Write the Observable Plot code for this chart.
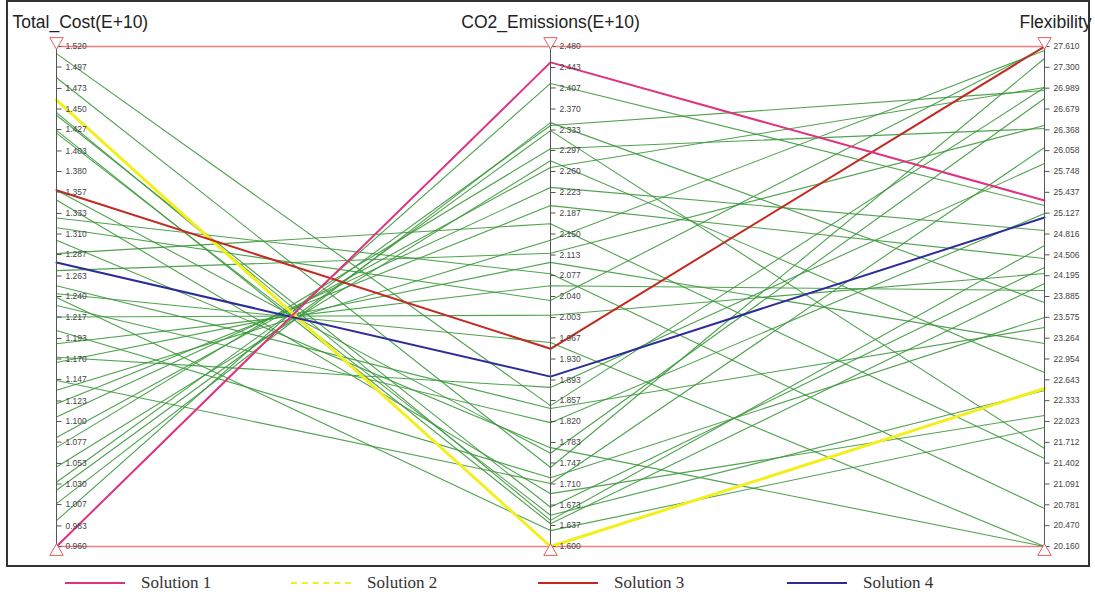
<!DOCTYPE html>
<html>
<head>
<meta charset="utf-8">
<script src="https://cdn.jsdelivr.net/npm/d3@7"></script>
<script src="https://cdn.jsdelivr.net/npm/@observablehq/plot@0.6"></script>
<style>
  html, body { margin: 0; padding: 0; background: #fff; }
  #wrap { position: relative; width: 1095px; height: 604px; overflow: hidden; }
  #chart { position: absolute; left: 0; top: 0; }
  #frame { position: absolute; left: 6px; top: 0px; width: 1084px; height: 567px; border: 2px solid #333; box-sizing: border-box; pointer-events: none; }
  #legend { position: absolute; left: 0; top: 571px; width: 1095px; height: 24px; font-family: "Liberation Serif", "Times New Roman", serif; font-size: 17px; color: #333; }
  .item { position: absolute; top: 0; height: 24px; display: flex; align-items: center; }
  .sw { width: 60px; height: 0; border-top: 2px solid; margin-right: 16px; }
</style>
</head>
<body>
<div id="wrap">
  <div id="chart"></div>
  <div id="frame"></div>
  <div id="legend"></div>
</div>
<script>
// ---- Data ----
const dims = ["Total_Cost(E+10)", "CO2_Emissions(E+10)", "Flexibility"];

const costTicks = ["1.520","1.497","1.473","1.450","1.427","1.403","1.380","1.357","1.333","1.310","1.287","1.263","1.240","1.217","1.193","1.170","1.147","1.123","1.100","1.077","1.053","1.030","1.007","0.983","0.960"];
const emisTicks = ["2.480","2.443","2.407","2.370","2.333","2.297","2.260","2.223","2.187","2.150","2.113","2.077","2.040","2.003","1.967","1.930","1.893","1.857","1.820","1.783","1.747","1.710","1.673","1.637","1.600"];
const flexTicks = ["27.610","27.300","26.989","26.679","26.368","26.058","25.748","25.437","25.127","24.816","24.506","24.195","23.885","23.575","23.264","22.954","22.643","22.333","22.023","21.712","21.402","21.091","20.781","20.470","20.160"];

// other (green) Pareto solutions
const greenCost = [1.512,1.485,1.446,1.443,1.426,1.423,1.359,1.348,1.328,1.317,1.303,1.288,1.269,1.252,1.243,1.239,1.230,1.217,1.202,1.187,1.172,1.166,1.146,1.135,1.120,1.105,1.082,1.071,1.049,1.032,1.023,1.008,0.989];
const greenEmis = [1.848,1.739,1.646,1.669,1.640,1.655,1.764,1.693,2.080,2.033,1.774,2.168,2.116,1.843,1.959,1.628,1.818,2.007,1.721,2.059,1.880,2.100,1.711,2.139,2.200,2.232,2.267,2.300,2.279,2.341,2.332,2.346,2.415];
const greenFlex = [26.999,27.431,24.645,24.317,24.079,22.484,26.835,22.112,20.726,27.595,20.160,21.471,26.433,23.423,20.160,21.933,25.122,24.228,23.572,23.974,25.867,23.185,26.105,27.550,24.451,24.868,26.999,26.388,22.753,26.954,21.620,23.796,25.241];

// highlighted solutions
const solNames = ["Solution 1", "Solution 2", "Solution 3", "Solution 4"];
const solCost = [0.960, 1.460, 1.359, 1.278];
const solEmis = [2.452, 1.600, 1.948, 1.899];
const solFlex = [25.315, 22.514, 27.610, 25.062];
const solColors = ["#e0327e", "#f2ef1c", "#c22a22", "#2c2c98"];

// ---- Build ----
const tickSets = [costTicks, emisTicks, flexTicks];
const ranges = tickSets.map(t => d3.extent(t, s => +s));
const norm = (j, v) => (v - ranges[j][0]) / (ranges[j][1] - ranges[j][0]);

const greenRows = [];
greenCost.forEach((c, i) => {
  [c, greenEmis[i], greenFlex[i]].forEach((v, j) => greenRows.push({id: i, dim: dims[j], y: norm(j, v)}));
});
const solRows = [];
solNames.forEach((n, i) => {
  [solCost[i], solEmis[i], solFlex[i]].forEach((v, j) => solRows.push({id: n, dim: dims[j], y: norm(j, v), color: solColors[i]}));
});
const tickRows = [];
tickSets.forEach((t, j) => t.forEach(label => tickRows.push({dim: dims[j], y: norm(j, +label), label})));

const tickSymbol = { draw(ctx) { ctx.moveTo(0, 0); ctx.lineTo(5, 0); } };

const drawOrder = [1, 2, 3, 0];
const solMarks = drawOrder.map(i => Plot.line(solRows.filter(r => r.id === solNames[i]), {
  x: "dim", y: "y", stroke: solColors[i], strokeWidth: i === 1 ? 3 : 2
}));

const chart = Plot.plot({
  width: 1095,
  height: 568,
  marginLeft: 56,
  marginRight: 51,
  marginTop: 46,
  marginBottom: 22,
  style: { fontFamily: "Liberation Sans, Arial, sans-serif", background: "white" },
  x: { type: "point", domain: dims, padding: 0, axis: null },
  y: { domain: [0, 1], axis: null },
  marks: [
    Plot.ruleY([0, 1], { x1: () => dims[0], x2: () => dims[2], stroke: "#f07f7f", strokeWidth: 1.5 }),
    Plot.line(greenRows, { x: "dim", y: "y", z: "id", stroke: "#3c983c", strokeWidth: 1.1, strokeOpacity: 0.9 }),
    ...solMarks,
    Plot.ruleX(dims, { y1: 0, y2: 1, stroke: "#555", strokeWidth: 1 }),
    Plot.dot(tickRows, { x: "dim", y: "y", symbol: tickSymbol, stroke: "#555", strokeWidth: 1, r: 3 }),
    Plot.text(tickRows, { x: "dim", y: "y", text: "label", dx: 9, textAnchor: "start", fontSize: 8.5, fill: "#444" }),
    Plot.dot(dims, { x: d => d, y: () => 1, symbol: "triangle", rotate: 180, dy: -5, r: 5, stroke: "#e06060", fill: "white", strokeWidth: 1 }),
    Plot.dot(dims, { x: d => d, y: () => 0, symbol: "triangle", dy: 5, r: 5, stroke: "#e06060", fill: "white", strokeWidth: 1 }),
    Plot.text([dims[0]], { x: d => d, y: () => 1, text: d => d, dy: -24, dx: -44, textAnchor: "start", fontSize: 17.5, fill: "#222" }),
    Plot.text([dims[1]], { x: d => d, y: () => 1, text: d => d, dy: -24, textAnchor: "middle", fontSize: 17.5, fill: "#222" }),
    Plot.text([dims[2]], { x: d => d, y: () => 1, text: d => d, dy: -24, dx: 47, textAnchor: "end", fontSize: 17.5, fill: "#222" })
  ]
});
document.getElementById("chart").appendChild(chart);

// ---- Legend ----
const legend = document.getElementById("legend");
const legendLeft = [65, 291, 538, 787];
solNames.forEach((n, i) => {
  const item = document.createElement("div");
  item.className = "item";
  item.style.left = legendLeft[i] + "px";
  const sw = document.createElement("span");
  sw.className = "sw";
  sw.style.borderTopColor = solColors[i];
  if (i === 1) sw.style.borderTopStyle = "dashed";
  const t = document.createElement("span");
  t.textContent = n;
  item.appendChild(sw);
  item.appendChild(t);
  legend.appendChild(item);
});
</script>
</body>
</html>
